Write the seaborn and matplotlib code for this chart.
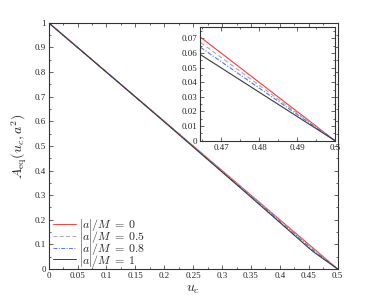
import numpy as np
import pandas as pd
import matplotlib
matplotlib.use("Agg")
import matplotlib.pyplot as plt
import seaborn as sns
from matplotlib.ticker import AutoMinorLocator

# values
u_c = [0.0, 0.05, 0.1, 0.15, 0.2, 0.25, 0.3, 0.35, 0.4, 0.45, 0.46, 0.5]
a_eq_0 = [1.0, 0.9, 0.8, 0.7, 0.6, 0.5, 0.4, 0.3, 0.2, 0.1, 0.08, 0.0]
a_eq_05 = [1.0, 0.9, 0.8, 0.6998, 0.5995, 0.499, 0.3985, 0.298, 0.197, 0.096, 0.076, 0.0]
a_eq_08 = [1.0, 0.9, 0.7998, 0.6995, 0.599, 0.4975, 0.3965, 0.2955, 0.1935, 0.0925, 0.0722, 0.0]
a_eq_1 = [1.0, 0.9, 0.7995, 0.699, 0.598, 0.496, 0.394, 0.292, 0.189, 0.0855, 0.0665, 0.0]
spins = ["0", "0.5", "0.8", "1"]

main_xticks = [0, 0.05, 0.1, 0.15, 0.2, 0.25, 0.3, 0.35, 0.4, 0.45, 0.5]
main_xlabels = ["0", "0.05", "0.1", "0.15", "0.2", "0.25", "0.3", "0.35", "0.4", "0.45", "0.5"]
main_yticks = [0, 0.1, 0.2, 0.3, 0.4, 0.5, 0.6, 0.7, 0.8, 0.9, 1.0]
main_ylabels = ["0", "0.1", "0.2", "0.3", "0.4", "0.5", "0.6", "0.7", "0.8", "0.9", "1"]
ins_xticks = [0.47, 0.48, 0.49, 0.5]
ins_xlabels = ["0.47", "0.48", "0.49", "0.5"]
ins_yticks = [0, 0.01, 0.02, 0.03, 0.04, 0.05, 0.06, 0.07]
ins_ylabels = ["0", "0.01", "0.02", "0.03", "0.04", "0.05", "0.06", "0.07"]

sns.set_style("ticks")
plt.rcParams["font.family"] = ["Liberation Serif", "DejaVu Serif"]
plt.rcParams["mathtext.fontset"] = "cm"

df = pd.DataFrame({"u": u_c * 4,
                   "A": a_eq_0 + a_eq_05 + a_eq_08 + a_eq_1,
                   "spin": sum([[s] * len(u_c) for s in spins], [])})

styles = {"0": dict(color="#ff3838", ls="-"),
          "0.5": dict(color="#aaaaaa", ls=(0, (4, 2.5))),
          "0.8": dict(color="#5574f2", ls=(0, (4, 1.5, 1, 1.5))),
          "1": dict(color="#3a3a3a", ls="-")}


def draw(ax, label=True):
    for s in spins:
        sub = df[df["spin"] == s]
        sns.lineplot(data=sub, x="u", y="A", ax=ax, color=styles[s]["color"],
                     linestyle=styles[s]["ls"], lw=0.8,
                     label=rf"$|a|/M\;=\;{s}$" if label else None)
    for side in ["top", "right"]:
        ax.spines[side].set_visible(True)
    for sp in ax.spines.values():
        sp.set_linewidth(0.8)
        sp.set_color("#333333")
    ax.tick_params(which="both", top=True, right=True, direction="in",
                   labelsize=6.5, length=3, width=0.5, pad=2)
    ax.tick_params(which="minor", length=1.5)
    ax.xaxis.set_minor_locator(AutoMinorLocator(2))
    ax.yaxis.set_minor_locator(AutoMinorLocator(2))
    ax.set_xlabel("")
    ax.set_ylabel("")


fig = plt.figure(figsize=(3.74, 3.04), dpi=100)
ax = fig.add_axes([0.130, 0.115, 0.773, 0.810])
draw(ax)
ax.set_xticks(main_xticks)
ax.set_xticklabels(main_xlabels)
ax.set_yticks(main_yticks)
ax.set_yticklabels(main_ylabels)
ax.set_xlim(0, 0.5)
ax.set_ylim(0, 1)
ax.set_xlabel("$u_c$", fontsize=10, labelpad=2)
ax.set_ylabel(r"$A_{\rm eq}(u_c, a^2)$", fontsize=10, labelpad=4)
leg = ax.legend(loc="lower left", frameon=False, fontsize=8.5, handlelength=1.9,
                handletextpad=0.25, labelspacing=-0.35, borderaxespad=0.0,
                bbox_to_anchor=(0.0, -0.017))
for line in leg.get_lines():
    line.set_linewidth(0.7)

ins = fig.add_axes([0.535, 0.537, 0.361, 0.373])
draw(ins, label=False)
ins.set_xticks(ins_xticks)
ins.set_xticklabels(ins_xlabels)
ins.set_yticks(ins_yticks)
ins.set_yticklabels(ins_ylabels)
ins.set_xlim(0.4645, 0.5)
ins.set_ylim(0, 0.0775)

fig.savefig("out.png", dpi=100)
